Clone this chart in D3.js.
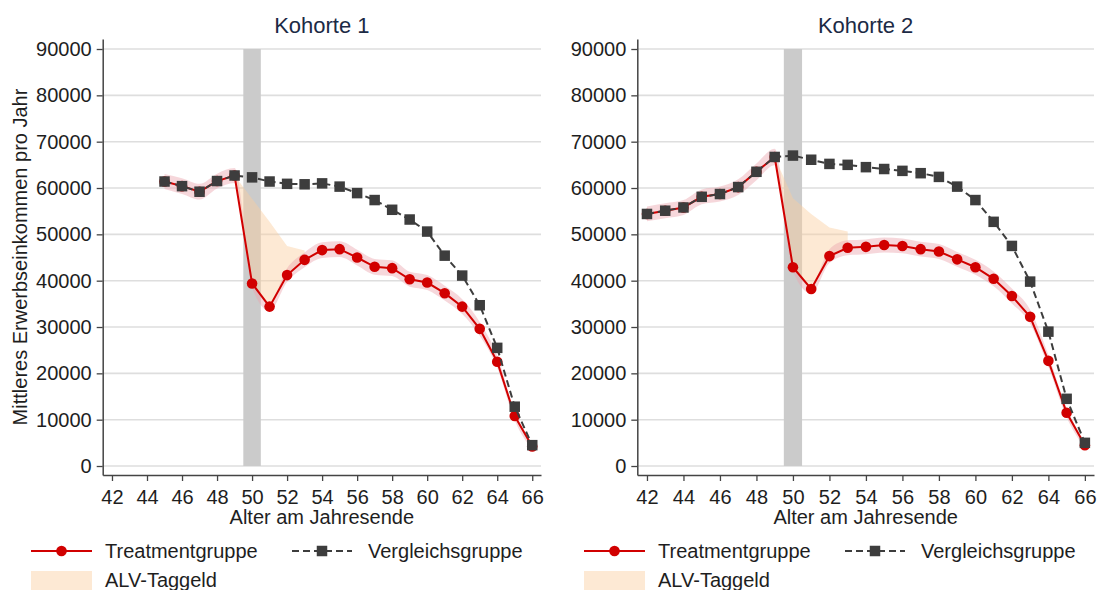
<!DOCTYPE html>
<html>
<head>
<meta charset="utf-8">
<script src="https://cdn.jsdelivr.net/npm/d3@7"></script>
<style>
  body { margin: 0; background: #fff; }
  svg { font-family: "Liberation Sans", Arial, sans-serif; }
</style>
</head>
<body>
<svg id="chart" width="1098" height="590"></svg>
<script>
// Kohorte 1
const ages1  = [45,46,47,48,49,50,51,52,53,54,55,56,57,58,59,60,61,62,63,64,65,66]
const treat1 = [61400,60400,59200,61500,62700,39400,34400,41200,44500,46600,46800,45000,43000,42700,40300,39600,37300,34400,29600,22500,10800,4200]
const comp1  = [61400,60400,59200,61500,62700,62300,61400,60900,60800,61000,60300,58900,57400,55300,53200,50600,45400,41100,34700,25500,12800,4500]
const ci1    = [1600,1700,1700,1600,1600,900,900,1500,1600,1700,1700,1700,1700,1700,1600,1600,1600,1600,1500,1300,1000,700]
const alvAges1 = [49,50,51,52,53]
const alvTop1  = [62700,57700,52700,47500,46500]

// Kohorte 2
const ages2  = [42,43,44,45,46,47,48,49,50,51,52,53,54,55,56,57,58,59,60,61,62,63,64,65,66]
const treat2 = [54400,55100,55800,58100,58700,60200,63500,66700,42900,38200,45300,47100,47300,47700,47500,46800,46300,44600,42900,40400,36700,32200,22700,11500,4500]
const comp2  = [54400,55100,55800,58100,58700,60200,63500,66700,67000,66100,65200,65000,64500,64100,63700,63200,62400,60300,57400,52700,47500,39800,29000,14500,5000]
const ci2    = [1600,1600,1600,1600,1600,1700,1800,1800,900,900,1500,1600,1600,1600,1600,1600,1600,1600,1600,1600,1600,1500,1300,1000,700]
const alvAges2 = [49,50,51,52,53]
const alvTop2  = [66700,57800,54400,51500,50600]

const yTicks = [0,10000,20000,30000,40000,50000,60000,70000,80000,90000]
const xTicks = [42,44,46,48,50,52,54,56,58,60,62,64,66]
const titles = ["Kohorte 1", "Kohorte 2"]
const legendLabels = ["Treatmentgruppe", "Vergleichsgruppe", "ALV-Taggeld"]
const yTitle = "Mittleres Erwerbseinkommen pro Jahr"
const xTitle = "Alter am Jahresende"

const red = "#d10000"
const dark = "#3d3d3d"
const textCol = "#1e1e1e"

const svg = d3.select("#chart")

function drawPanel(p) {
  const g = svg.append("g")
  const x = d3.scaleLinear().domain([41.47, 66.5]).range([p.left, p.right])
  const y = d3.scaleLinear().domain([-1940, 92160]).range([475, 39])

  // gridlines
  g.append("g").selectAll("line").data(yTicks).join("line")
    .attr("x1", p.left).attr("x2", p.right)
    .attr("y1", d => y(d)).attr("y2", d => y(d))
    .attr("stroke", "#dedede").attr("stroke-width", 1.6)

  // grey band for job loss year
  g.append("rect")
    .attr("x", x(49.5)).attr("width", x(50.5) - x(49.5))
    .attr("y", y(90000)).attr("height", y(0) - y(90000))
    .attr("fill", "#cbcbcb")

  // ALV-Taggeld area on top of treatment line
  const alv = p.alvAges.map((a, i) => [a, p.treat[p.ages.indexOf(a)], p.alvTop[i]])
  g.append("path").datum(alv)
    .attr("d", d3.area().x(d => x(d[0])).y0(d => y(d[1])).y1(d => y(d[2])))
    .attr("fill", "#fbcf9f").attr("fill-opacity", 0.45)

  // confidence band
  const band = p.ages.map((a, i) => [a, p.treat[i] - p.ci[i], p.treat[i] + p.ci[i]])
  g.append("path").datum(band)
    .attr("d", d3.area().curve(d3.curveMonotoneX).x(d => x(d[0])).y0(d => y(d[1])).y1(d => y(d[2])))
    .attr("fill", "#eba7b0").attr("fill-opacity", 0.45)

  // treatment group
  const tData = p.ages.map((a, i) => [a, p.treat[i]])
  g.append("path").datum(tData)
    .attr("d", d3.line().x(d => x(d[0])).y(d => y(d[1])))
    .attr("fill", "none").attr("stroke", red).attr("stroke-width", 2)
  g.append("g").selectAll("circle").data(tData).join("circle")
    .attr("cx", d => x(d[0])).attr("cy", d => y(d[1])).attr("r", 5.3)
    .attr("fill", red)

  // comparison group
  const cData = p.ages.map((a, i) => [a, p.comp[i]])
  g.append("path").datum(cData)
    .attr("d", d3.line().x(d => x(d[0])).y(d => y(d[1])))
    .attr("fill", "none").attr("stroke", dark).attr("stroke-width", 2)
    .attr("stroke-dasharray", "7,4")
  const sq = 10.5
  g.append("g").selectAll("rect").data(cData).join("rect")
    .attr("x", d => x(d[0]) - sq/2).attr("y", d => y(d[1]) - sq/2)
    .attr("width", sq).attr("height", sq)
    .attr("fill", dark)

  // axes
  const yAxis = g.append("g").attr("transform", `translate(${p.left},0)`)
    .call(d3.axisLeft(y).tickValues(yTicks).tickFormat(d3.format("d")).tickSize(6).tickSizeOuter(0).tickPadding(5))
  const xAxis = g.append("g").attr("transform", "translate(0,475)")
    .call(d3.axisBottom(x).tickValues(xTicks).tickSize(6).tickSizeOuter(0).tickPadding(9))
  ;[yAxis, xAxis].forEach(ax => {
    ax.select(".domain").attr("stroke", "#444").attr("stroke-width", 1.5)
    ax.selectAll(".tick line").attr("stroke", "#444").attr("stroke-width", 1.3)
    ax.selectAll(".tick text").attr("fill", textCol).style("font-size", "20px")
  })

  // titles
  g.append("text")
    .attr("x", (p.left + p.right) / 2).attr("y", 33)
    .attr("text-anchor", "middle").attr("fill", "#1c2a45")
    .style("font-size", "22px").text(p.title)
  g.append("text")
    .attr("x", (p.left + p.right) / 2).attr("y", 524)
    .attr("text-anchor", "middle").attr("fill", textCol)
    .style("font-size", "20px").text(xTitle)
  if (p.yTitle) {
    g.append("text")
      .attr("transform", "rotate(-90)")
      .attr("x", -257).attr("y", 27)
      .attr("text-anchor", "middle").attr("fill", textCol)
      .style("font-size", "20px").text(p.yTitle)
  }

  // legend
  const lg = g.append("g").attr("transform", `translate(${p.legendX},0)`)
  lg.append("line").attr("x1", 0).attr("x2", 61).attr("y1", 551).attr("y2", 551)
    .attr("stroke", red).attr("stroke-width", 2)
  lg.append("circle").attr("cx", 30.5).attr("cy", 551).attr("r", 5.3).attr("fill", red)
  lg.append("text").attr("x", 74).attr("y", 558).attr("fill", textCol)
    .style("font-size", "20px").text(legendLabels[0])
  lg.append("line").attr("x1", 261).attr("x2", 321).attr("y1", 551).attr("y2", 551)
    .attr("stroke", dark).attr("stroke-width", 2).attr("stroke-dasharray", "7,4")
  lg.append("rect").attr("x", 291 - sq/2).attr("y", 551 - sq/2).attr("width", sq).attr("height", sq).attr("fill", dark)
  lg.append("text").attr("x", 337).attr("y", 558).attr("fill", textCol)
    .style("font-size", "20px").text(legendLabels[1])
  lg.append("rect").attr("x", 0).attr("y", 571).attr("width", 61).attr("height", 19)
    .attr("fill", "#fbcf9f").attr("fill-opacity", 0.45)
  lg.append("text").attr("x", 74).attr("y", 587).attr("fill", textCol)
    .style("font-size", "20px").text(legendLabels[2])
}

drawPanel({left: 102.7, right: 541, legendX: 31, title: titles[0], yTitle: yTitle,
  ages: ages1, treat: treat1, comp: comp1, ci: ci1, alvAges: alvAges1, alvTop: alvTop1})
drawPanel({left: 637.3, right: 1094, legendX: 584, title: titles[1], yTitle: null,
  ages: ages2, treat: treat2, comp: comp2, ci: ci2, alvAges: alvAges2, alvTop: alvTop2})
</script>
</body>
</html>
